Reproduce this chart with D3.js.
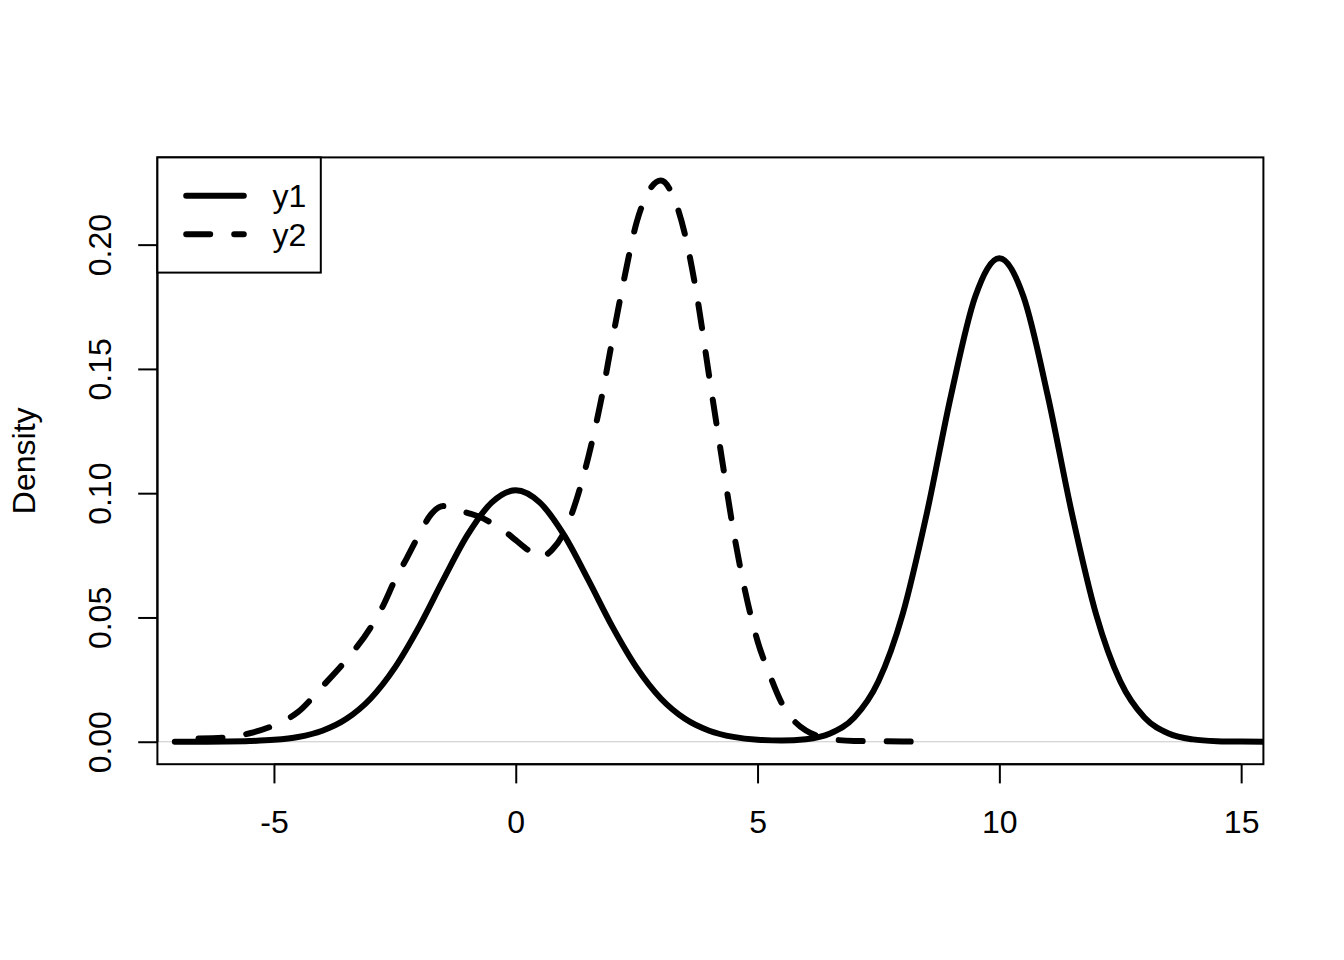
<!DOCTYPE html>
<html><head><meta charset="utf-8">
<script src="https://cdn.jsdelivr.net/npm/d3@7"></script>
<style>
body{margin:0;background:#fff}
svg{display:block}
text{font-family:"Liberation Sans",Arial,Helvetica,sans-serif;fill:#000}
</style>
</head><body>
<svg id="chart" width="1344" height="960"></svg>
<script>
// ---- data ----
const seriesNames = ["y1", "y2"];
const y1X = [-7.05, -6.5, -6, -5.5, -5, -4.5, -4, -3.5, -3, -2.5, -2, -1.5, -1, -0.5, 0,
  0.5, 1, 1.5, 2, 2.5, 3, 3.5, 4, 4.5, 5, 5.5, 6, 6.5, 7, 7.5, 8, 8.5, 9, 9.5, 10,
  10.5, 11, 11.5, 12, 12.5, 13, 13.5, 14, 14.5, 15, 15.5];
const y1Values = [0.00000, 0.00003, 0.00009, 0.00028, 0.00077, 0.00193, 0.00444, 0.00923, 0.0174, 0.0298, 0.0462, 0.0651, 0.0831, 0.0962, 0.1012,
  0.0962, 0.0831, 0.0651, 0.0462, 0.0298, 0.0174, 0.00923, 0.00444, 0.00194, 0.00081, 0.00051, 0.00104, 0.00334, 0.00974, 0.0243, 0.0513, 0.0919, 0.1393, 0.1790, 0.1945,
  0.1790, 0.1393, 0.0919, 0.0513, 0.0243, 0.00974, 0.00331, 0.00095, 0.00023, 0.00005, 0.00001];
const y2X = [-6.56, -6.0, -5.5, -5.0, -4.5, -4.0, -3.5, -3.0, -2.75, -2.5, -2.25, -2.0, -1.75, -1.5, -1.25, -1.0, -0.75, -0.5, -0.25, 0,
  0.25, 0.5, 0.75, 1.0, 1.25, 1.5, 1.75, 2.0, 2.25, 2.5, 2.75, 3.0, 3.25, 3.5, 3.75, 4.0, 4.25, 4.5, 4.75, 5.0,
  5.25, 5.5, 5.75, 6.0, 6.25, 6.5, 7.0, 7.5, 8.0, 8.2];
const y2Values = [0.0013, 0.0017, 0.0034, 0.0066, 0.0120, 0.0222, 0.0330, 0.0460, 0.0545, 0.0650, 0.0740, 0.0833, 0.0915, 0.0948, 0.0936, 0.0921, 0.0905, 0.0880, 0.0850, 0.0811,
  0.0772, 0.0742, 0.0772, 0.0842, 0.0970, 0.1145, 0.1360, 0.1620, 0.1870, 0.2090, 0.2215, 0.2258, 0.2197, 0.2040, 0.1790, 0.1470, 0.1155, 0.0850, 0.0600, 0.0405,
  0.0270, 0.0155, 0.0085, 0.0045, 0.0023, 0.0011, 0.0003, 0.0002, 0.0001, 0.00005];
const xTicks = [-5, 0, 5, 10, 15];
const xTickLabels = ["-5", "0", "5", "10", "15"];
const yTicks = [0, 0.05, 0.10, 0.15, 0.20];
const yTickLabels = ["0.00", "0.05", "0.10", "0.15", "0.20"];
const yLabel = "Density";

// ---- layout ----
const L = 157.4, R = 1263.4, T = 157.4, B = 764.2;
const LINE = 38.4, FS = 32;
const svg = d3.select("#chart");

const x = d3.scaleLinear().domain([-7.41, 15.46]).range([L, R]);
const y = d3.scaleLinear().domain([-0.00904, 0.2351]).range([B, T]);

svg.append("defs").append("clipPath").attr("id", "plotclip")
  .append("rect").attr("x", L).attr("y", T).attr("width", R - L).attr("height", B - T);

// zero line (gray)
svg.append("line").attr("x1", L).attr("x2", R).attr("y1", y(0)).attr("y2", y(0))
  .attr("stroke", "#c8c8c8").attr("stroke-width", 1.2);

const line = d3.line().x(d => x(d[0])).y(d => y(d[1])).curve(d3.curveMonotoneX);
const g = svg.append("g").attr("clip-path", "url(#plotclip)");

g.append("path").datum(y1X.map((v, i) => [v, y1Values[i]]))
  .attr("d", line).attr("fill", "none").attr("stroke", "#000")
  .attr("stroke-width", 6).attr("stroke-linecap", "round").attr("stroke-linejoin", "round");

g.append("path").datum(y2X.map((v, i) => [v, y2Values[i]]))
  .attr("d", line).attr("fill", "none").attr("stroke", "#000")
  .attr("stroke-width", 6).attr("stroke-linecap", "round").attr("stroke-linejoin", "round")
  .attr("stroke-dasharray", "24 24");

// box
svg.append("rect").attr("x", L).attr("y", T).attr("width", R - L).attr("height", B - T)
  .attr("fill", "none").attr("stroke", "#000").attr("stroke-width", 2);

// x axis
const xAxis = d3.axisBottom(x).tickValues(xTicks).tickSize(LINE / 2).tickSizeOuter(0)
  .tickFormat((d, i) => xTickLabels[i]);
const gx = svg.append("g").attr("transform", `translate(0,${B})`).call(xAxis);
gx.select(".domain").remove();
gx.selectAll(".tick line").attr("stroke", "#000").attr("stroke-width", 2);
gx.selectAll(".tick text").attr("y", 833.3 - B).attr("dy", null)
  .style("font-size", FS + "px").style("font-family", '"Liberation Sans",Arial,sans-serif').attr("fill", "#000");
gx.append("line").attr("x1", x(xTicks[0])).attr("x2", x(xTicks[xTicks.length - 1]))
  .attr("y1", 0).attr("y2", 0).attr("stroke", "#000").attr("stroke-width", 2);

// y axis
const yAxis = d3.axisLeft(y).tickValues(yTicks).tickSize(LINE / 2).tickSizeOuter(0)
  .tickFormat((d, i) => yTickLabels[i]);
const gy = svg.append("g").attr("transform", `translate(${L},0)`).call(yAxis);
gy.select(".domain").remove();
gy.selectAll(".tick line").attr("stroke", "#000").attr("stroke-width", 2);
gy.selectAll(".tick text")
  .attr("x", null).attr("dy", null)
  .attr("transform", `translate(${111.3 - L},0) rotate(-90)`)
  .attr("text-anchor", "middle")
  .style("font-size", FS + "px").style("font-family", '"Liberation Sans",Arial,sans-serif').attr("fill", "#000");
gy.append("line").attr("x1", 0).attr("x2", 0)
  .attr("y1", y(yTicks[0])).attr("y2", y(yTicks[yTicks.length - 1]))
  .attr("stroke", "#000").attr("stroke-width", 2);

// y label
svg.append("text").attr("transform", `translate(34.5,${(T + B) / 2}) rotate(-90)`)
  .attr("text-anchor", "middle").style("font-size", FS + "px").text(yLabel);

// legend
const lgW = 320.8 - L, lgH = 272.6 - T;
svg.append("rect").attr("x", L).attr("y", T).attr("width", lgW).attr("height", lgH)
  .attr("fill", "#fff").attr("stroke", "#000").attr("stroke-width", 2);
seriesNames.forEach((name, i) => {
  const cy = T + LINE * (i + 1);
  svg.append("line").attr("x1", 186.2).attr("x2", 243.8).attr("y1", cy).attr("y2", cy)
    .attr("stroke", "#000").attr("stroke-width", 6).attr("stroke-linecap", "round")
    .attr("stroke-dasharray", i === 1 ? "24 24" : null);
  svg.append("text").attr("x", 272.6).attr("y", cy + 11.3).style("font-size", FS + "px").text(name);
});
</script>
</body></html>
